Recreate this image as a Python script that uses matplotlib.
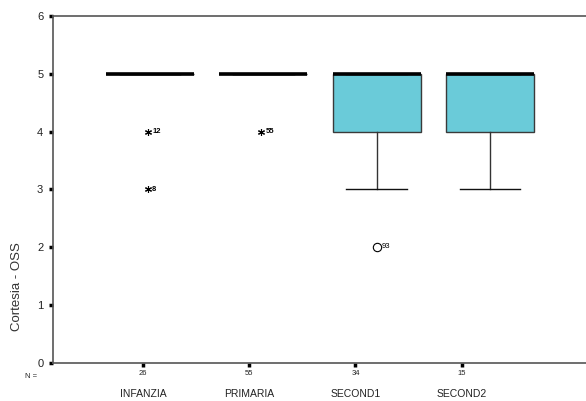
import matplotlib.pyplot as plt
import numpy as np

plt.rcParams['font.family'] = ['Liberation Sans', 'DejaVu Sans']

categories = ["INFANZIA", "PRIMARIA", "SECOND1", "SECOND2"]
counts = [26, 55, 34, 15]
q1 = [5, 5, 4, 4]
med = [5, 5, 5, 5]
q3 = [5, 5, 5, 5]
whislo = [5, 5, 3, 3]
whishi = [5, 5, 5, 5]
# extreme values (*) and outliers (o) with case labels
extremes = [[(4, "12"), (3, "8")],
            [(4, "55")],
            [], []]
outliers = [[], [], [(2, "93")], []]

fig = plt.figure(figsize=(5.86, 4.01), dpi=100)
ax = fig.add_axes([0.0904, 0.0948, 0.9096, 0.8653])

ticks = np.arange(1, len(categories) + 1)
boxpos = ticks * 16 / 15  # boxes drift right of the ticks, as in the original

stats = []
for i in range(len(categories)):
    stats.append(dict(med=med[i], q1=q1[i], q3=q3[i], whislo=whislo[i],
                      whishi=whishi[i], fliers=[]))

ax.bxp(stats, positions=boxpos, widths=0.83, capwidths=0.57,
       patch_artist=True, showfliers=False, showcaps=True,
       boxprops=dict(facecolor="#6acbd9", edgecolor="#3a3a3a", linewidth=1),
       medianprops=dict(color="black", linewidth=2.6, solid_capstyle="butt"),
       whiskerprops=dict(color="#333333", linewidth=1),
       capprops=dict(color="#111111", linewidth=1))

for i, pts in enumerate(extremes):
    for v, lab in pts:
        ax.plot(boxpos[i] - 0.02, v, marker=(6, 2, 0), color="black",
                markersize=5, markeredgewidth=0.8)
        ax.text(boxpos[i] + 0.02, v, lab, fontsize=5.5, va="center",
                ha="left", fontweight="bold")
for i, pts in enumerate(outliers):
    for v, lab in pts:
        ax.plot(boxpos[i], v, marker="o", mfc="white", mec="black",
                markersize=6, markeredgewidth=0.8)
        ax.text(boxpos[i] + 0.05, v + 0.02, lab, fontsize=5.5, va="center",
                ha="left")

ax.set_ylim(0, 6)
ax.set_xlim(0.153, 5.17)
ax.set_yticks(range(0, 7))
ax.set_xticks(ticks)
ax.set_xticklabels([str(n) for n in counts], fontsize=5.5)
ax.tick_params(axis="y", direction="out", length=3, width=2.5, labelsize=8,
               pad=4, colors="black", labelcolor="#222222")
ax.tick_params(axis="x", direction="out", length=3, width=2.5, pad=2,
               colors="black", labelcolor="#222222")
for s in ["left", "bottom", "top"]:
    ax.spines[s].set_color("#555555")
    ax.spines[s].set_linewidth(1.2)
ax.spines["right"].set_visible(False)

for t, name in zip(ticks, categories):
    ax.text(t, -0.075, name, transform=ax.get_xaxis_transform(),
            ha="center", va="top", fontsize=7.5, color="#222222")
ax.text(-0.03, -0.028, "N =", transform=ax.transAxes, ha="right", va="top",
        fontsize=5.5, color="#222222")

fig.text(0.029, 0.285, "Cortesia - OSS", rotation=90, ha="center",
         va="center", fontsize=9.5, color="#333333")

fig.savefig("out.png", dpi=100)
